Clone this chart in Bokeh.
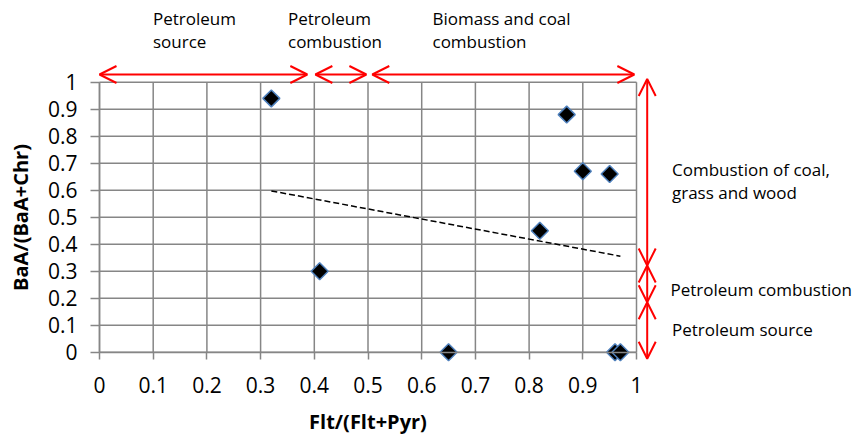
import numpy as np
from bokeh.plotting import figure
from bokeh.models import Range1d, FixedTicker, Arrow, OpenHead, Label
from bokeh.embed import file_html
from bokeh.resources import INLINE

# ---- data ----
flt_ratio = [0.32, 0.41, 0.65, 0.82, 0.87, 0.90, 0.95, 0.96, 0.97]
baa_ratio = [0.94, 0.30, 0.00, 0.45, 0.88, 0.67, 0.66, 0.00, 0.00]

x_ticks = [0, 0.1, 0.2, 0.3, 0.4, 0.5, 0.6, 0.7, 0.8, 0.9, 1.0]
x_tick_labels = ["0", "0.1", "0.2", "0.3", "0.4", "0.5", "0.6", "0.7", "0.8", "0.9", "1"]
y_ticks = [0, 0.1, 0.2, 0.3, 0.4, 0.5, 0.6, 0.7, 0.8, 0.9, 1.0]
y_tick_labels = ["0", "0.1", "0.2", "0.3", "0.4", "0.5", "0.6", "0.7", "0.8", "0.9", "1"]

# source zones along Flt/(Flt+Pyr)
x_zone_start = [0.0, 0.402, 0.508]
x_zone_end = [0.387, 0.497, 0.996]
# source zones along BaA/(BaA+Chr)
y_zone_start = [1.012, 0.321, 0.185]
y_zone_end = [0.321, 0.185, -0.024]

FONT = "Open Sans"
W, H = 858, 438
# pixel positions of the 0..1 plot square inside the canvas
PX0, PX1 = 99.0, 636.0
PY0, PY1 = 351.7, 81.7

def dx(px):
    return (px - PX0) / (PX1 - PX0)

def dy(py):
    return (PY0 - py) / (PY0 - PY1)

p = figure(width=W, height=H, output_backend="svg", toolbar_location=None,
           x_range=Range1d(dx(0), dx(W)), y_range=Range1d(dy(H), dy(0)),
           min_border=0)
p.outline_line_color = None
p.background_fill_color = "white"
p.border_fill_color = "white"
p.xgrid.visible = False
p.ygrid.visible = False

GRID = "#868686"
# grid lines built from the tick arrays
p.segment(x0=x_ticks, y0=[0] * len(x_ticks), x1=x_ticks, y1=[1] * len(x_ticks),
          line_color=GRID, line_width=1.5)
p.segment(x0=[0] * len(y_ticks), y0=y_ticks, x1=[1] * len(y_ticks), y1=y_ticks,
          line_color=GRID, line_width=1.5)

for ax in (p.xaxis, p.yaxis):
    ax.fixed_location = 0
    ax.bounds = (0, 1)
    ax.axis_line_color = GRID
    ax.axis_line_width = 1.5
    ax.major_tick_line_color = GRID
    ax.major_tick_line_width = 1.5
    ax.major_tick_in = 0
    ax.minor_tick_line_color = None
    ax.major_label_text_font = FONT
    ax.major_label_text_font_size = "21px"
    ax.major_label_text_color = "black"
    ax.axis_label_text_font = FONT
    ax.axis_label_text_font_size = "20px"
    ax.axis_label_text_font_style = "bold"
    ax.axis_label_text_color = "black"
p.xaxis.ticker = FixedTicker(ticks=x_ticks)
p.yaxis.ticker = FixedTicker(ticks=y_ticks)
p.xaxis.major_label_overrides = dict(zip(x_ticks, x_tick_labels))
p.yaxis.major_label_overrides = dict(zip(y_ticks, y_tick_labels))
p.xaxis.axis_label = "Flt/(Flt+Pyr)"
p.yaxis.axis_label = "BaA/(BaA+Chr)"
p.xaxis.major_tick_out = 7
p.yaxis.major_tick_out = 9
p.xaxis.major_label_standoff = 18
p.yaxis.major_label_standoff = 13
p.xaxis.axis_label_standoff = 11
p.yaxis.axis_label_standoff = 11

# trend line (least squares)
k, b = np.polyfit(flt_ratio, baa_ratio, 1)
tx = [min(flt_ratio), max(flt_ratio)]
ty = [k * v + b for v in tx]
p.line(tx, ty, line_color="black", line_width=1.5, line_dash="6 3")

p.scatter(flt_ratio, baa_ratio, marker="square", angle=np.pi / 4, size=12,
          fill_color="black", line_color="#4F81BD", line_width=1.5)

# zone arrows
top_y = dy(74)
for xs, xe in zip(x_zone_start, x_zone_end):
    p.add_layout(Arrow(x_start=xs, y_start=top_y, x_end=xe, y_end=top_y,
                       line_color="red", line_width=2,
                       start=OpenHead(size=17, line_color="red", line_width=2),
                       end=OpenHead(size=17, line_color="red", line_width=2)))
right_x = dx(646.7)
for ys, ye in zip(y_zone_start, y_zone_end):
    p.add_layout(Arrow(x_start=right_x, y_start=ys, x_end=right_x, y_end=ye,
                       line_color="red", line_width=2,
                       start=OpenHead(size=17, line_color="red", line_width=2),
                       end=OpenHead(size=17, line_color="red", line_width=2)))

def add_text(txt, px, py):
    p.add_layout(Label(x=dx(px), y=dy(py), text=txt, text_font=FONT,
                       text_font_size="17px", text_color="black",
                       text_baseline="alphabetic", text_align="left"))

add_text("Petroleum", 152.5, 17.5)
add_text("source", 152.5, 40.8)
add_text("Petroleum", 287.5, 17.5)
add_text("combustion", 287.5, 40.8)
add_text("Biomass and coal", 432, 17.5)
add_text("combustion", 432, 40.8)
add_text("Combustion of coal,", 671.5, 168.5)
add_text("grass and wood", 671.5, 192)
add_text("Petroleum combustion", 670, 289)
add_text("Petroleum source", 671.5, 329)

open("out.html", "w").write(file_html(p, INLINE))
